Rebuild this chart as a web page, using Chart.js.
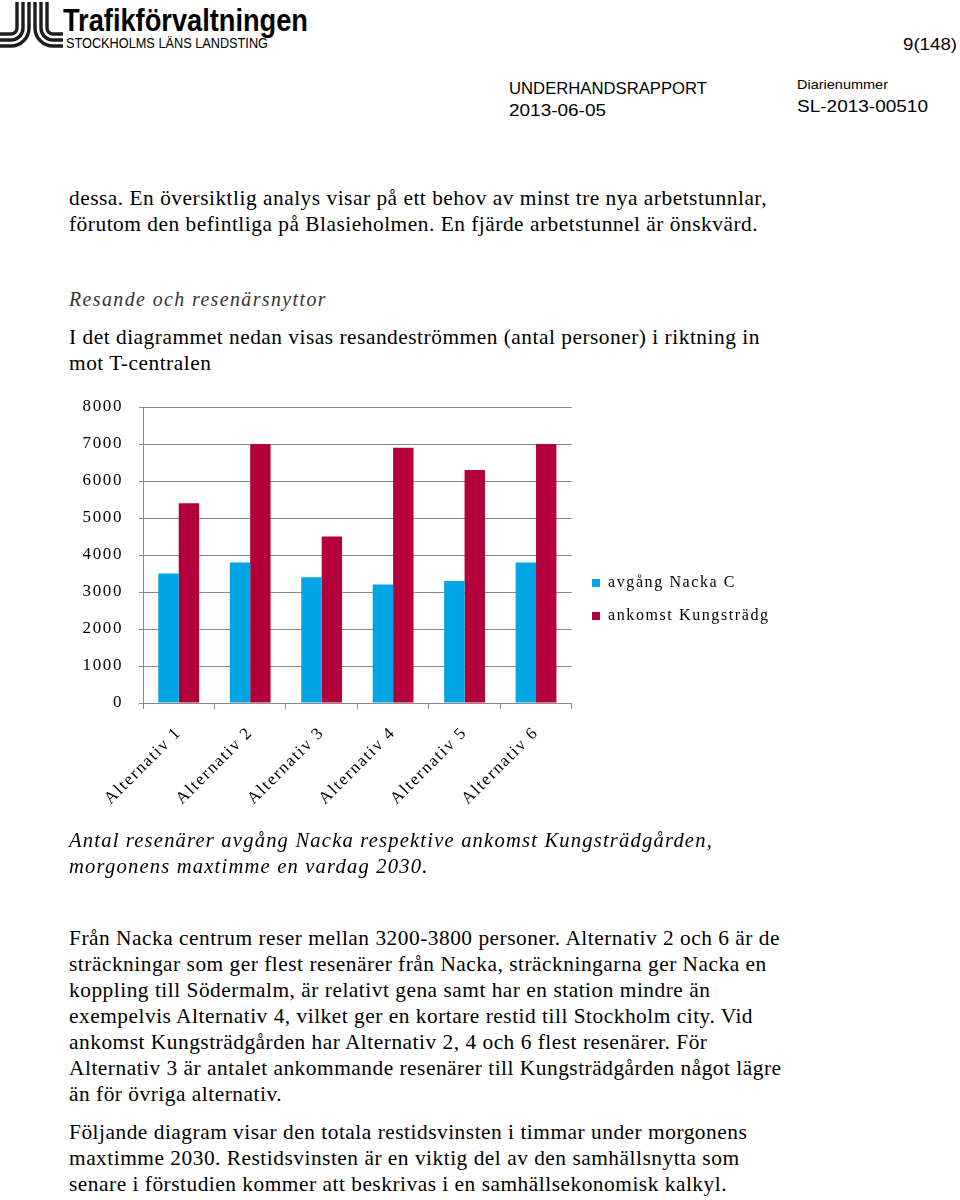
<!DOCTYPE html>
<html><head><meta charset="utf-8">
<script src="https://cdn.jsdelivr.net/npm/chart.js@4.4.0/dist/chart.umd.min.js"></script>
<style>
html,body{margin:0;padding:0;background:#fff;}
body{width:960px;height:1200px;position:relative;overflow:hidden;}
.t{position:absolute;white-space:nowrap;transform-origin:0 0;line-height:1;color:#000;}
#wrap{position:absolute;left:0;top:380px;width:960px;height:453px;}
</style></head><body>
<svg style="position:absolute;left:0;top:0" width="64" height="52" viewBox="0 0 64 52">
 <g fill="none" stroke="#1d1d1d" stroke-width="3.4">
  <path d="M17 2 V28 A6 6 0 0 1 11 34 H0"/>
  <path d="M23 2 V28 A12 12 0 0 1 11 40 H0"/>
  <path d="M29 2 V28 A18 18 0 0 1 11 46 H0"/>
  <path d="M47 2 V28 A6 6 0 0 0 53 34 H63"/>
  <path d="M41 2 V28 A12 12 0 0 0 53 40 H63"/>
  <path d="M35 2 V28 A18 18 0 0 0 53 46 H63"/>
 </g>
</svg>
<div id="wrap"><canvas id="c" width="960" height="453"></canvas></div>
<script>
// ---- chart data ----
const categories = ['Alternativ 1','Alternativ 2','Alternativ 3','Alternativ 4','Alternativ 5','Alternativ 6'];
const avgangNackaC = [3500, 3800, 3400, 3200, 3300, 3800];
const ankomstKungstradg = [5400, 7000, 4500, 6900, 6300, 7000];
const seriesNames = ['avgång Nacka C', 'ankomst Kungsträdg'];
const yTickValues = [0, 1000, 2000, 3000, 4000, 5000, 6000, 7000, 8000];

// ---- page text ----
const SANS = '"Liberation Sans", Arial, sans-serif';
const SERIF = '"Liberation Serif", "Times New Roman", serif';
const headerTexts = [
  ['Trafikförvaltningen', 63, 31, SANS, 31, 'bold', 'normal', 245],
  ['STOCKHOLMS LÄNS LANDSTING', 66, 48, SANS, 14, 'normal', 'normal', 202],
  ['9(148)', 903, 50, SANS, 17, 'normal', 'normal', 54],
  ['UNDERHANDSRAPPORT', 509, 94, SANS, 16.5, 'normal', 'normal', 198],
  ['2013-06-05', 509, 116, SANS, 16.5, 'normal', 'normal', 97],
  ['Diarienummer', 797, 89, SANS, 13, 'normal', 'normal', 91],
  ['SL-2013-00510', 797, 112, SANS, 16.5, 'normal', 'normal', 131]
];
const bodyLines = [
  ['dessa. En översiktlig analys visar på ett behov av minst tre nya arbetstunnlar,', 206],
  ['förutom den befintliga på Blasieholmen. En fjärde arbetstunnel är önskvärd.', 232],
  ['I det diagrammet nedan visas resandeströmmen (antal personer) i riktning in', 345],
  ['mot T-centralen', 371],
  ['Från Nacka centrum reser mellan 3200-3800 personer. Alternativ 2 och 6 är de', 946],
  ['sträckningar som ger flest resenärer från Nacka, sträckningarna ger Nacka en', 972],
  ['koppling till Södermalm, är relativt gena samt har en station mindre än', 998],
  ['exempelvis Alternativ 4, vilket ger en kortare restid till Stockholm city. Vid', 1024],
  ['ankomst Kungsträdgården har Alternativ 2, 4 och 6 flest resenärer.  För', 1050],
  ['Alternativ 3 är antalet ankommande resenärer till Kungsträdgården något lägre', 1076],
  ['än för övriga alternativ.', 1102],
  ['Följande diagram visar den totala restidsvinsten i timmar under morgonens', 1140],
  ['maxtimme 2030. Restidsvinsten är en viktig del av den samhällsnytta som', 1166],
  ['senare i förstudien kommer att beskrivas i en samhällsekonomisk kalkyl.', 1192]
];
const italicLines = [
  ['Antal resenärer avgång Nacka respektive ankomst Kungsträdgården,', 848],
  ['morgonens maxtimme en vardag 2030.', 874]
];

function mk(text, x, base, fam, size, weight, style, ls, color) {
  const d = document.createElement('div');
  d.className = 't';
  d.textContent = text;
  d.style.fontFamily = fam;
  d.style.fontSize = size + 'px';
  d.style.fontWeight = weight;
  d.style.fontStyle = style;
  d.style.letterSpacing = ls + 'px';
  if (color) d.style.color = color;
  d.style.left = x + 'px';
  const asc = fam === SANS ? 0.8465 : 0.8375;
  d.style.top = (base - asc * size) + 'px';
  document.body.appendChild(d);
  return d;
}
function natW(el) { return el.getBoundingClientRect().width; }

headerTexts.forEach(h => {
  const el = mk(h[0], h[1], h[2], h[3], h[4], h[5], h[6], 0);
  el.style.transform = 'scaleX(' + (h[7] / natW(el)) + ')';
});
const bodyEls = bodyLines.map(b => mk(b[0], 69, b[1], SERIF, 21, 'normal', 'normal', 0.5));
const bodyScale = 698 / natW(bodyEls[0]);
bodyEls.forEach(el => el.style.transform = 'scaleX(' + bodyScale + ')');

const head = mk('Resande och resenärsnyttor', 69, 307, SERIF, 21, 'normal', 'italic', 1.5, '#333');
head.style.transform = 'scaleX(' + (258 / natW(head)) + ')';
const itEls = italicLines.map(b => mk(b[0], 69, b[1], SERIF, 21, 'normal', 'italic', 1.2));
const itScale = 644 / natW(itEls[0]);
itEls.forEach(el => el.style.transform = 'scaleX(' + itScale + ')');

// ---- chart ----
const LS = '1.6px';
const CANVAS_TOP = 380;
const tweak = {
  id: 'tweak',
  beforeUpdate(c) { c.ctx.letterSpacing = LS; },
  beforeLayout(c) { c.ctx.letterSpacing = LS; },
  beforeDraw(c) { c.ctx.letterSpacing = LS; },
  afterLayout(c) {
    const lg = c.legend;
    const pad = lg.options.labels.padding;
    const dx = 592 - (lg.left + pad);
    lg.left += dx;
    lg.right = lg.left + 320;
    lg.top = (575 - CANVAS_TOP) - pad;
    lg.bottom = lg.top + 200;
  }
};
Chart.defaults.font.family = SERIF;
Chart.defaults.color = '#000';
const GRID = '#8a8a8a';
new Chart(document.getElementById('c'), {
  type: 'bar',
  data: {
    labels: categories,
    datasets: [
      { label: seriesNames[0], data: avgangNackaC, backgroundColor: '#00A6E3', barPercentage: 1, categoryPercentage: 0.571 },
      { label: seriesNames[1], data: ankomstKungstradg, backgroundColor: '#B3003B', barPercentage: 1, categoryPercentage: 0.571 }
    ]
  },
  options: {
    responsive: false,
    animation: false,
    devicePixelRatio: 1,
    layout: { padding: { left: 82, top: 27, right: 225, bottom: 20 } },
    plugins: {
      legend: {
        position: 'right', align: 'start',
        labels: { boxWidth: 8, boxHeight: 8, padding: 17, color: '#000', font: { family: SERIF, size: 16 } }
      },
      tooltip: { enabled: false },
      title: { display: false }
    },
    scales: {
      x: {
        afterFit: s => { s.height = 110; },
        grid: { display: true, drawOnChartArea: false, drawTicks: true, tickLength: 6, color: GRID, offset: true },
        border: { display: true, color: GRID },
        ticks: { minRotation: 45, maxRotation: 45, padding: 14, color: '#000', font: { family: SERIF, size: 17 } }
      },
      y: {
        min: 0, max: 8000,
        afterBuildTicks: s => { s.ticks = yTickValues.map(v => ({ value: v })); },
        afterFit: s => { s.width = 61; },
        ticks: { padding: 16, color: '#000', font: { family: SERIF, size: 17 }, callback: v => String(v) },
        grid: { color: GRID, tickLength: 4 },
        border: { display: true, color: GRID }
      }
    }
  },
  plugins: [tweak]
});
</script>
</body></html>
